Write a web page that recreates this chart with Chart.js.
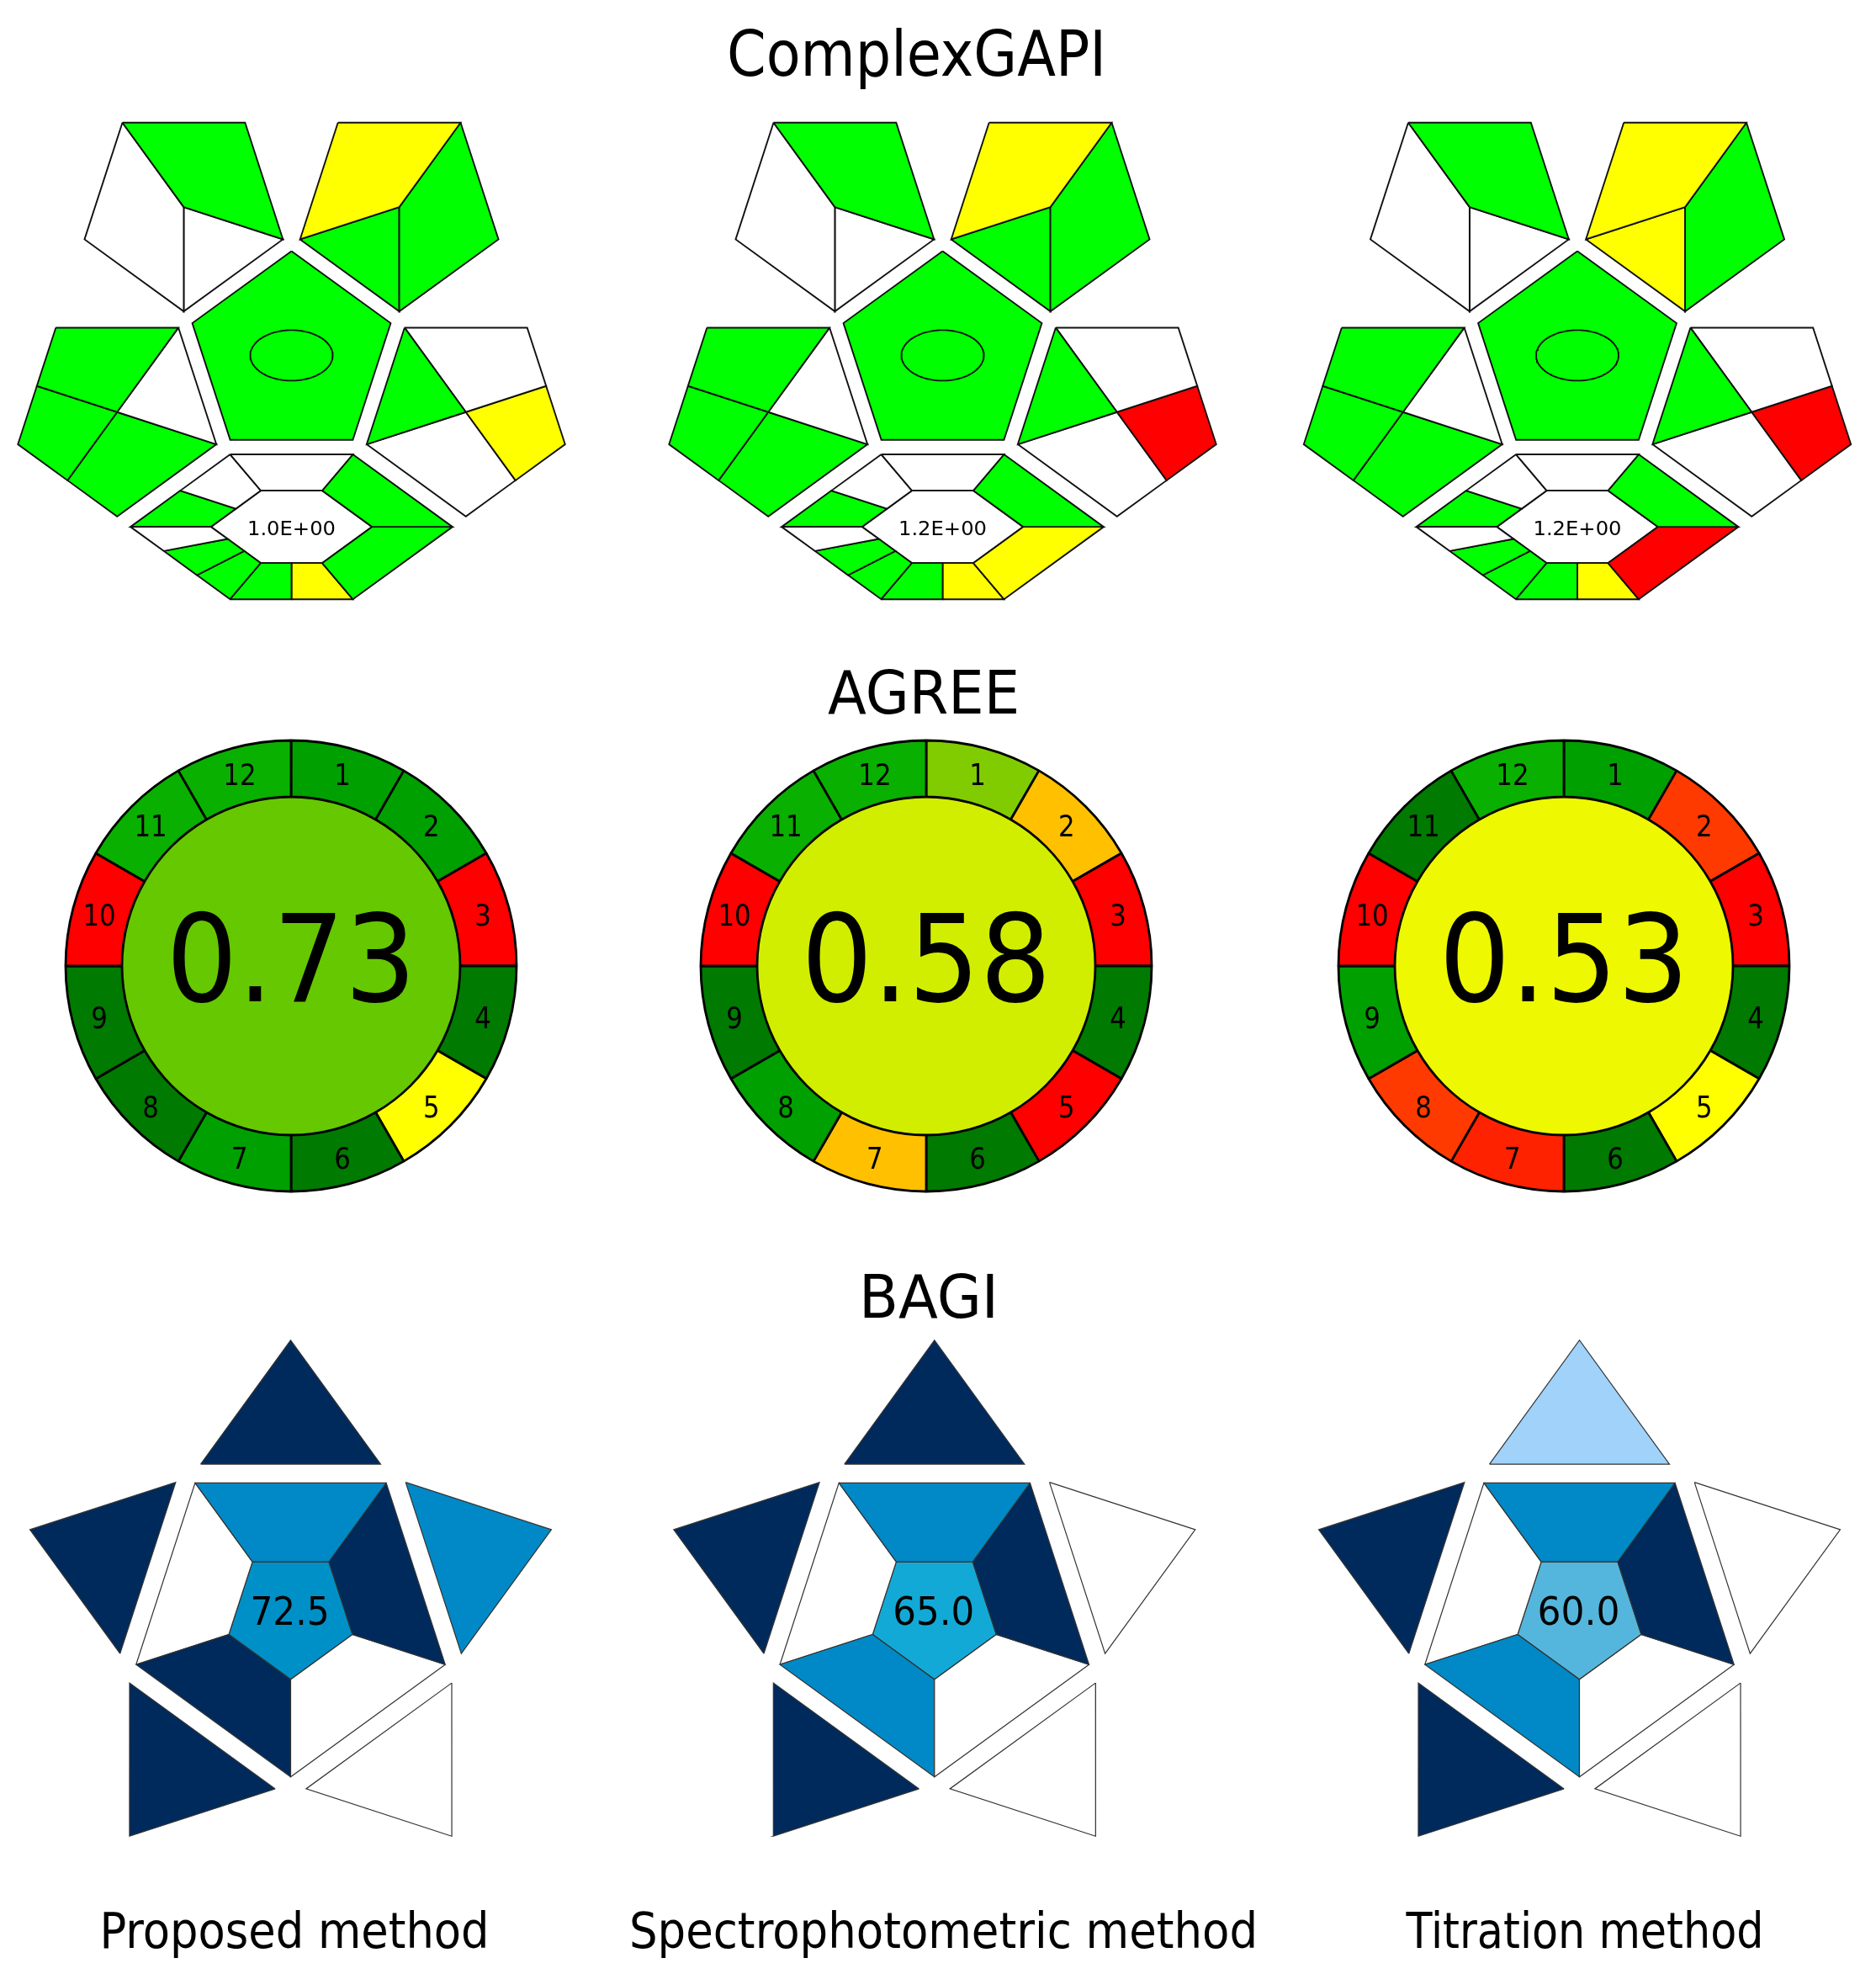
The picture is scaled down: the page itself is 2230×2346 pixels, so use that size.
<!DOCTYPE html>
<html>
<head>
<meta charset="utf-8">
<script src="https://cdn.jsdelivr.net/npm/chart.js@4.4.1/dist/chart.umd.min.js"></script>
<style>
  html, body { margin: 0; padding: 0; background: #ffffff; }
  #wrap { position: relative; width: 2230px; height: 2346px; overflow: hidden; }
  #wrap canvas { position: absolute; }
</style>
</head>
<body>
<div id="wrap">
  <canvas id="main" width="2230" height="2346" style="left:0;top:0"></canvas>
  <canvas id="agree0" width="600" height="600"></canvas>
  <canvas id="agree1" width="600" height="600"></canvas>
  <canvas id="agree2" width="600" height="600"></canvas>
</div>
<script>
// ======================= DATA =======================
const methods = ['Proposed method', 'Spectrophotometric method', 'Titration method'];
const sectionTitles = ['ComplexGAPI', 'AGREE', 'BAGI'];

// ComplexGAPI field ratings: G = green, Y = yellow, R = red, W = white (not applicable)
const gapiTopLeft  = [['G','W','W'], ['G','W','W'], ['G','W','W']];
const gapiTopRight = [['Y','G','G'], ['Y','G','G'], ['Y','G','Y']];
const gapiLeft     = [['G','W','G','G'], ['G','W','G','G'], ['G','W','G','G']];
const gapiRight    = [['G','W','Y','W'], ['G','W','R','W'], ['G','W','R','W']];
const gapiCentre   = ['G', 'G', 'G'];
// hexagon fields: top, upper-right, lower-right, bottom-left, bottom-right,
//                 lower-left (3 parts), upper-left (2 parts)
const gapiHexagon  = [
  ['W','G','G','G','Y','W','G','G','W','G'],
  ['W','G','Y','G','Y','W','G','G','W','G'],
  ['W','G','R','G','Y','W','G','G','W','G']
];
const gapiEFactor  = ['1.0E+00', '1.2E+00', '1.2E+00'];

// AGREE: 12 principle scores (estimated from colours) and overall score
const agreeLabels = ['1','2','3','4','5','6','7','8','9','10','11','12'];
const agreeScores = [
  [0.9, 0.9, 0, 1, 0.5, 1, 0.9, 1, 1, 0, 0.85, 0.85],
  [0.75, 0.4, 0, 1, 0, 1, 0.4, 0.9, 1, 0, 0.85, 0.85],
  [0.9, 0.2, 0, 1, 0.5, 1, 0.15, 0.2, 0.9, 0, 1, 0.85]
];
const agreeTotal = [0.73, 0.58, 0.53];

// BAGI: attribute points (10 / 7.5 / 5 / 2.5) - outer triangles and inner kites
const bagiTriangles = [[10, 7.5, 2.5, 10, 10], [10, 2.5, 2.5, 10, 10], [5, 2.5, 2.5, 10, 10]];
const bagiKites     = [[7.5, 10, 2.5, 10, 2.5], [7.5, 10, 2.5, 7.5, 2.5], [7.5, 10, 2.5, 7.5, 2.5]];
const bagiTotal     = [72.5, 65.0, 60.0];

// ======================= STYLES =======================
const gapiColours = { G: '#00FF00', Y: '#FFFF00', R: '#FF0000', W: '#FFFFFF' };
const agreeColours = {
  '1': '#007A00', '0.9': '#00A000', '0.85': '#0AB000', '0.75': '#80CC00',
  '0.5': '#FFFF00', '0.4': '#FFC000', '0.2': '#FF3A00', '0.15': '#FF2200', '0': '#FF0000'
};
const agreeCentreColours = { '0.73': '#66C800', '0.58': '#D2EE00', '0.53': '#EEF800' };
const bagiColours = { '10': '#002A5C', '7.5': '#0089C6', '5': '#A0D2FA', '2.5': '#FFFFFF' };
const bagiCentreColours = { '72.5': '#0090C8', '65': '#13A9D6', '60': '#54B6DC' };

const FONT = '"DejaVu Sans", Verdana, sans-serif';

// ======================= LAYOUT =======================
const LAYOUT = {
  W: 2230, H: 2346,
  gapi: { cx: [346.5, 1120.5, 1875], cy: 422.4, R: 124, gap: 17.3, hexHalfH: 86.1,
          innerScale: 0.5, ellipseRx: 49, ellipseRy: 30, line: 1.9, lineColour: '#111111',
          text: { size: 23, width: 105, dy: 9.5 } },
  agree: { cx: [346, 1101, 1859], cy: 1148, outer: 268, inner: 201, canvas: 600,
           border: 2.8, labelSize: 35, labelScale: 0.88, centreSize: 145, centreScale: 0.92, centreDy: 42 },
  bagi: { cx: [345.5, 1110.8, 1877.5], cy: 1918.6, outer: 193.2, inner: 77.3,
          triBase: 178.5, triHalf: 107, triApex: 325.9, line: 1.2, lineColour: '#333333',
          text: { size: 46, width: [94, 97, 98], dy: 12 } },
  titles: [ { x: 1089.5, y: 90, size: 75, width: 451 },
            { x: 1098, y: 848, size: 72, width: 228 },
            { x: 1104, y: 1566, size: 72, width: 166 } ],
  methodLabels: { y: 2315, size: 58, x: [350, 1121.5, 1884], width: [463, 747, 425] }
};

// ======================= HELPERS =======================
const rad = d => d * Math.PI / 180;
function polar(cx, cy, r, deg) { return { x: cx + r * Math.sin(rad(deg)), y: cy - r * Math.cos(rad(deg)) }; }
function pentagon(cx, cy, r, start) { return [0,1,2,3,4].map(k => polar(cx, cy, r, start + 72 * k)); }
function lerp(p, q, t) { return { x: p.x + (q.x - p.x) * t, y: p.y + (q.y - p.y) * t }; }

function drawText(ctx, str, x, y, size, opts) {
  ctx.save();
  ctx.font = size + 'px ' + FONT;
  ctx.textAlign = 'center';
  ctx.textBaseline = 'alphabetic';
  ctx.fillStyle = '#000000';
  const m = ctx.measureText(str).width;
  let sx = 1;
  if (opts && opts.width) sx = opts.width / m;
  else if (opts && opts.scaleX) sx = opts.scaleX;
  ctx.translate(x, y);
  ctx.scale(sx, 1);
  ctx.fillText(str, 0, 0);
  ctx.restore();
}

const datasets = [];
const texts = [];

function addPoly(pts, colour, lineWidth, lineColour) {
  datasets.push({
    data: pts.concat([pts[0]]).map(p => ({ x: p.x, y: p.y })),
    backgroundColor: colour,
    borderColor: lineColour,
    borderWidth: lineWidth,
    fill: 'shape',
    pointRadius: 0,
    tension: 0,
    borderJoinStyle: 'miter',
    order: 1
  });
}
function addEllipse(cx, cy, rx, ry, lineWidth, lineColour) {
  const pts = [];
  for (let k = 0; k <= 90; k++) {
    const t = rad(k * 4);
    pts.push({ x: cx + rx * Math.cos(t), y: cy + ry * Math.sin(t) });
  }
  datasets.push({ data: pts, borderColor: lineColour, borderWidth: lineWidth, fill: false,
                  pointRadius: 0, tension: 0, order: 0 });
}

// ======================= ComplexGAPI =======================
function gapiPictogram(i) {
  const G = LAYOUT.gapi, cx = G.cx[i], cy = G.cy, R = G.R;
  const lw = G.line, lc = G.lineColour;
  const col = c => gapiColours[c];
  const poly = (pts, c) => addPoly(pts, col(c), lw, lc);
  const ap = R * Math.cos(rad(36));
  const D = 2 * ap + G.gap;

  // central pentagon + ellipse
  poly(pentagon(cx, cy, R, 0), gapiCentre[i]);
  addEllipse(cx, cy, G.ellipseRx, G.ellipseRy, lw, lc);

  // upper-left pentagon
  {
    const P = polar(cx, cy, D, 324);
    const [TR, RR, B, LL, TL] = pentagon(P.x, P.y, R, 36);
    const c = gapiTopLeft[i];
    poly([TL, TR, RR, P], c[0]);
    poly([TL, P, B, LL], c[1]);
    poly([P, RR, B], c[2]);
  }
  // upper-right pentagon
  {
    const P = polar(cx, cy, D, 36);
    const [TR, RR, B, LL, TL] = pentagon(P.x, P.y, R, 36);
    const c = gapiTopRight[i];
    poly([TL, TR, P, LL], c[0]);
    poly([TR, RR, B, P], c[1]);
    poly([LL, P, B], c[2]);
  }
  // left pentagon
  {
    const P = polar(cx, cy, D, 252);
    const [TR, RR, B, LL, TL] = pentagon(P.x, P.y, R, 36);
    const c = gapiLeft[i];
    const mTL = lerp(LL, TL, 0.5), mLB = lerp(LL, B, 0.5);
    poly([TL, TR, P, mTL], c[0]);
    poly([TR, RR, P], c[1]);
    poly([mTL, P, mLB, LL], c[2]);
    poly([P, RR, B, mLB], c[3]);
  }
  // right pentagon
  {
    const P = polar(cx, cy, D, 108);
    const [TR, RR, B, LL, TL] = pentagon(P.x, P.y, R, 36);
    const c = gapiRight[i];
    const mTR = lerp(TR, RR, 0.5), mRB = lerp(RR, B, 0.5);
    poly([TL, P, LL], c[0]);
    poly([TL, TR, mTR, P], c[1]);
    poly([P, mTR, RR, mRB], c[2]);
    poly([LL, P, mRB, B], c[3]);
  }
  // bottom hexagon
  {
    const h = G.hexHalfH, w = R * Math.sin(rad(36)), e = h / Math.tan(rad(36));
    const hy = cy + ap + G.gap + h;
    const hex = s => [
      { x: cx - w * s, y: hy - h * s }, { x: cx + w * s, y: hy - h * s },
      { x: cx + (w + e) * s, y: hy }, { x: cx + w * s, y: hy + h * s },
      { x: cx - w * s, y: hy + h * s }, { x: cx - (w + e) * s, y: hy }
    ];
    const [A, B, C, Dd, E, F] = hex(1);
    const [a, b, c, d, ee, f] = hex(G.innerScale);
    const k = gapiHexagon[i];
    const M = lerp(E, Dd, 0.5), m = lerp(ee, d, 0.5);
    poly([A, B, b, a], k[0]);
    poly([B, C, c, b], k[1]);
    poly([C, Dd, d, c], k[2]);
    poly([E, M, m, ee], k[3]);
    poly([M, Dd, d, m], k[4]);
    const F1 = lerp(F, E, 1/3), F2 = lerp(F, E, 2/3), f1 = lerp(f, ee, 1/3), f2 = lerp(f, ee, 2/3);
    poly([F, f, f1, F1], k[5]);
    poly([F1, f1, f2, F2], k[6]);
    poly([F2, f2, ee, E], k[7]);
    const AF = lerp(A, F, 0.5), af = lerp(a, f, 0.5);
    poly([A, a, af, AF], k[8]);
    poly([AF, af, f, F], k[9]);
    poly([a, b, c, d, ee, f], 'W');
    texts.push({ str: gapiEFactor[i], x: cx, y: hy + G.text.dy, size: G.text.size, width: G.text.width });
  }
}

// ======================= BAGI =======================
function bagiPictogram(i) {
  const Bg = LAYOUT.bagi, cx = Bg.cx[i], cy = Bg.cy;
  const lw = Bg.line, lc = Bg.lineColour;
  const outer = pentagon(cx, cy, Bg.outer, 36);
  const inner = pentagon(cx, cy, Bg.inner, 36);
  for (let k = 0; k < 5; k++) {
    const dir = 72 * k;
    const bc = polar(cx, cy, Bg.triBase, dir);
    const px = Math.cos(rad(dir)), py = Math.sin(rad(dir));
    const b1 = { x: bc.x - Bg.triHalf * px, y: bc.y - Bg.triHalf * py };
    const b2 = { x: bc.x + Bg.triHalf * px, y: bc.y + Bg.triHalf * py };
    const apex = polar(cx, cy, Bg.triApex, dir);
    addPoly([b1, apex, b2], bagiColours[String(bagiTriangles[i][k])], lw, lc);
    const j = (k + 4) % 5;
    addPoly([outer[j], outer[k], inner[k], inner[j]], bagiColours[String(bagiKites[i][k])], lw, lc);
  }
  addPoly(inner, bagiCentreColours[String(bagiTotal[i])], lw, lc);
  texts.push({ str: bagiTotal[i].toFixed(1), x: cx - 1, y: cy + Bg.text.dy, size: Bg.text.size, width: Bg.text.width[i] });
}

for (let i = 0; i < 3; i++) { gapiPictogram(i); bagiPictogram(i); }

sectionTitles.forEach((t, i) => {
  const L = LAYOUT.titles[i];
  texts.push({ str: t, x: L.x, y: L.y, size: L.size, width: L.width });
});
methods.forEach((t, i) => {
  const L = LAYOUT.methodLabels;
  texts.push({ str: t, x: L.x[i], y: L.y, size: L.size, width: L.width[i] });
});

// ======================= MAIN CHART =======================
const textPlugin = {
  id: 'pictogramText',
  afterDatasetsDraw(chart) {
    const ctx = chart.ctx, xs = chart.scales.x, ys = chart.scales.y;
    texts.forEach(t => drawText(ctx, t.str, xs.getPixelForValue(t.x), ys.getPixelForValue(t.y), t.size, { width: t.width }));
  }
};

new Chart(document.getElementById('main'), {
  type: 'line',
  data: { datasets },
  options: {
    responsive: false, animation: false, devicePixelRatio: 1, events: [],
    layout: { padding: 0 },
    scales: {
      x: { type: 'linear', min: 0, max: LAYOUT.W, display: false },
      y: { type: 'linear', min: 0, max: LAYOUT.H, reverse: true, display: false }
    },
    plugins: { legend: { display: false }, tooltip: { enabled: false } }
  },
  plugins: [textPlugin]
});

// ======================= AGREE =======================
function agreeTextPlugin(i) {
  const A = LAYOUT.agree;
  return {
    id: 'agreeText' + i,
    afterDatasetsDraw(chart) {
      const ctx = chart.ctx;
      const meta = chart.getDatasetMeta(0);
      let cxp = 0, cyp = 0;
      meta.data.forEach((arc, k) => {
        const p = arc.getProps(['x', 'y', 'startAngle', 'endAngle', 'innerRadius', 'outerRadius'], true);
        cxp = p.x; cyp = p.y;
        const mid = (p.startAngle + p.endAngle) / 2;
        const r = (p.innerRadius + p.outerRadius) / 2 + 1.5;
        drawText(ctx, agreeLabels[k], p.x + r * Math.cos(mid), p.y + r * Math.sin(mid) + 0.729 * A.labelSize / 2,
                 A.labelSize, { scaleX: A.labelScale });
      });
      drawText(ctx, agreeTotal[i].toFixed(2), cxp, cyp + A.centreDy, A.centreSize, { scaleX: A.centreScale });
    }
  };
}

for (let i = 0; i < 3; i++) {
  const A = LAYOUT.agree;
  const canvas = document.getElementById('agree' + i);
  canvas.style.left = (A.cx[i] - A.canvas / 2) + 'px';
  canvas.style.top = (A.cy - A.canvas / 2) + 'px';
  new Chart(canvas, {
    type: 'doughnut',
    data: {
      labels: agreeLabels,
      datasets: [
        { data: agreeLabels.map(() => 1),
          backgroundColor: agreeScores[i].map(s => agreeColours[String(s)]),
          borderColor: '#000000', borderWidth: A.border, weight: A.outer - A.inner },
        { data: [1], backgroundColor: [agreeCentreColours[String(agreeTotal[i])]],
          borderWidth: 0, weight: A.inner }
      ]
    },
    options: {
      responsive: false, animation: false, devicePixelRatio: 1, events: [],
      radius: A.outer, cutout: 0, rotation: 0,
      layout: { padding: 0 },
      plugins: { legend: { display: false }, tooltip: { enabled: false } }
    },
    plugins: [agreeTextPlugin(i)]
  });
}
</script>
</body>
</html>
